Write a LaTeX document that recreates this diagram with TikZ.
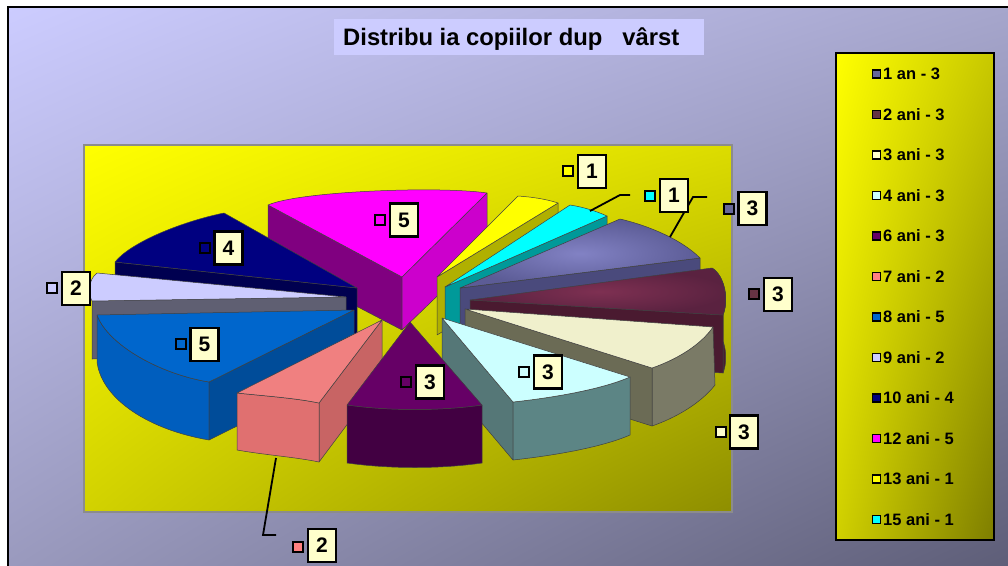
\documentclass[tikz,border=0pt]{standalone}
\usepackage{fontspec}
\setmainfont{Liberation Sans}
\usetikzlibrary{shadings}
\definecolor{bgA}{HTML}{CCCCFF}
\definecolor{bgB}{HTML}{A6A6CC}
\definecolor{bgC}{HTML}{9A9ABE}
\definecolor{bgD}{HTML}{5E5E78}
\definecolor{titlefill}{HTML}{CCCCFF}
\definecolor{plA}{HTML}{FFFF00}
\definecolor{plB}{HTML}{DCDC00}
\definecolor{plC}{HTML}{D2D200}
\definecolor{plD}{HTML}{8E8E00}
\definecolor{lgB}{HTML}{C8C800}
\definecolor{lgC}{HTML}{D0D000}
\definecolor{lgD}{HTML}{7E7E00}
\definecolor{boxfill}{HTML}{FFFFCC}
% slice colours
\definecolor{magT}{HTML}{FF00FF}
\definecolor{magL}{HTML}{800080}
\definecolor{magR}{HTML}{CC00CC}
\definecolor{navT}{HTML}{000080}
\definecolor{navD}{HTML}{000050}
\definecolor{lavT}{HTML}{CCCCFF}
\definecolor{lavD}{HTML}{5F5F72}
\definecolor{bluT}{HTML}{0066CC}
\definecolor{bluO}{HTML}{005EBE}
\definecolor{bluD}{HTML}{004C99}
\definecolor{yelT}{HTML}{FFFF00}
\definecolor{yelD}{HTML}{B0B000}
\definecolor{cyaT}{HTML}{00FFFF}
\definecolor{cyaD}{HTML}{009999}
\definecolor{slaI}{HTML}{8282C4}
\definecolor{slaT}{HTML}{5C5C96}
\definecolor{slaD}{HTML}{4A4A7C}
\definecolor{marI}{HTML}{7E3052}
\definecolor{marT}{HTML}{5A2240}
\definecolor{marD}{HTML}{4A1A30}
\definecolor{creT}{HTML}{F0F0CC}
\definecolor{creD}{HTML}{6B6B55}
\definecolor{creO}{HTML}{7A7A66}
\definecolor{lcyT}{HTML}{CCFFFF}
\definecolor{lcyD}{HTML}{557777}
\definecolor{lcyO}{HTML}{5C8585}
\definecolor{salT}{HTML}{F08080}
\definecolor{salF}{HTML}{E07070}
\definecolor{salD}{HTML}{C86464}
\definecolor{purT}{HTML}{660066}
\definecolor{purD}{HTML}{420042}
% key colours
\definecolor{kA}{HTML}{666699}
\definecolor{kB}{HTML}{663344}
\definecolor{kC}{HTML}{FFFFCC}
\definecolor{kD}{HTML}{CCFFFF}
\definecolor{kE}{HTML}{660066}
\definecolor{kF}{HTML}{FF8080}
\definecolor{kG}{HTML}{0066CC}
\definecolor{kH}{HTML}{CCCCFF}
\definecolor{kI}{HTML}{000080}
\definecolor{kJ}{HTML}{FF00FF}
\definecolor{kK}{HTML}{FFFF00}
\definecolor{kL}{HTML}{00FFFF}
\begin{document}
\begin{tikzpicture}[x=1pt,y=-1pt,
  sl/.style={draw=black!75, line width=0.5pt, line join=round},
  vbox/.style={draw=black, line width=2.2pt, fill=boxfill, minimum width=28pt, minimum height=33pt, inner sep=0pt, font=\fontsize{21}{21}\selectfont\bfseries},
  vkey/.style={draw=black, line width=2pt, minimum size=10pt, inner sep=0pt},
  lkey/.style={draw=black, line width=1.6pt, minimum size=8pt, inner sep=0pt},
  ltext/.style={anchor=west, inner sep=0pt, font=\fontsize{16.5}{16.5}\selectfont\bfseries},
  leader/.style={draw=black, line width=1.8pt}]
\useasboundingbox (0,0) rectangle (1008,565);
\clip (0,0) rectangle (1008,565);
\fill[white] (0,0) rectangle (1008,565);
\shade[upper left=bgA, upper right=bgB, lower left=bgC, lower right=bgD] (8,7) rectangle (1008,565);
\draw[line width=2.5pt] (8,575) -- (8,7) -- (1015,7);

% title
\node[fill=titlefill, minimum width=370pt, minimum height=36pt, inner sep=0pt] (titlebox) at (519,37) {};
\node[anchor=base west, inner sep=0pt, font=\fontsize{23.8}{23.8}\selectfont\bfseries] (title) at (343,45) {Distribu ia copiilor dup\hspace{20pt}vârst};

% plot area
\shade[upper left=plA, upper right=plB, lower left=plC, lower right=plD] (84,145) rectangle (732,512);
\draw[draw=black!45, line width=1.5pt] (84,145) rectangle (732,512);

% 12 ani (magenta)
\filldraw[sl, fill=magL] (268,205) -- (402,277) -- (402,330) -- (268,260) -- cycle;
\filldraw[sl, fill=magR] (487,193) -- (402,277) -- (402,330) -- (487,248) -- cycle;
\filldraw[sl, fill=magT] (268,205) .. controls (300,191) and (440,186) .. (487,193) -- (402,277) -- cycle;
% 10 ani (navy)
\filldraw[sl, fill=navD] (115,262) -- (357,288) -- (357,346) -- (115,320) -- cycle;
\filldraw[sl, fill=navT] (115,262) .. controls (130,243) and (180,222) .. (224,213) -- (357,288) -- cycle;
% 9 ani (lavender)
\filldraw[sl, fill=lavD] (92,301) -- (346,297) -- (346,355) -- (92,359) -- cycle;
\filldraw[sl, fill=lavT] (97,273) .. controls (88,280) and (88,294) .. (92,301) -- (346,297) -- cycle;
% 8 ani (blue)
\filldraw[sl, fill=bluO] (97,315) .. controls (108,345) and (160,374) .. (209,382) -- (209,440) .. controls (150,430) and (102,400) .. (97,362) -- cycle;
\filldraw[sl, fill=bluD] (354,310) -- (209,382) -- (209,440) -- (354,368) -- cycle;
\filldraw[sl, fill=bluT] (97,315) -- (354,310) -- (209,382) .. controls (160,374) and (108,345) .. (97,315) -- cycle;
% 13 ani (yellow)
\filldraw[sl, fill=yelD] (437,277) -- (558,203) -- (558,261) -- (437,335) -- cycle;
\filldraw[sl, fill=yelT] (437,277) -- (518,196) .. controls (532,197) and (546,199) .. (558,203) -- cycle;
% 15 ani (cyan)
\filldraw[sl, fill=cyaD] (445,287) -- (607,216) -- (607,274) -- (445,345) -- cycle;
\filldraw[sl, fill=cyaT] (445,287) -- (570,205) .. controls (583,207) and (596,211) .. (607,216) -- cycle;
% 1 an (slate)
\filldraw[sl, fill=slaD] (460,288) -- (700,258) -- (700,316) -- (460,346) -- cycle;
\shadedraw[sl, inner color=slaI, outer color=slaT] (460,288) -- (620,219) .. controls (650,226) and (682,240) .. (700,258) -- cycle;
% 2 ani (maroon)
\filldraw[sl, fill=marD] (712,268) .. controls (725,276) and (729,300) .. (723,315) -- (723,373) .. controls (729,358) and (725,334) .. (712,326) -- cycle;
\filldraw[sl, fill=marD] (470,300) -- (723,315) -- (723,373) -- (470,358) -- cycle;
\shadedraw[sl, inner color=marI, outer color=marT] (470,300) -- (712,268) .. controls (725,276) and (729,300) .. (723,315) -- cycle;
% 3 ani (cream)
\filldraw[sl, fill=creO] (652,368) .. controls (675,360) and (700,346) .. (713,327) -- (715,385) .. controls (700,404) and (675,418) .. (652,426) -- cycle;
\filldraw[sl, fill=creD] (465,309) -- (652,368) -- (652,426) -- (465,367) -- cycle;
\filldraw[sl, fill=creT] (465,309) -- (713,327) .. controls (700,346) and (675,360) .. (652,368) -- cycle;
% 4 ani (light cyan)
\filldraw[sl, fill=lcyD] (442,318) -- (513,402) -- (513,460) -- (442,376) -- cycle;
\filldraw[sl, fill=lcyO] (513,402) .. controls (550,398) and (600,390) .. (630,377) -- (630,435) .. controls (600,448) and (550,456) .. (513,460) -- cycle;
\filldraw[sl, fill=lcyT] (442,318) -- (513,402) .. controls (550,398) and (600,390) .. (630,377) -- cycle;
% 7 ani (salmon)
\filldraw[sl, fill=salD] (382,320) -- (319,403) -- (319,462) -- (382,378) -- cycle;
\filldraw[sl, fill=salF] (237,393) .. controls (265,396) and (295,398) .. (319,403) -- (319,462) .. controls (295,457) and (265,455) .. (237,450) -- cycle;
\filldraw[sl, fill=salT] (382,320) -- (237,393) .. controls (265,396) and (295,398) .. (319,403) -- cycle;
% 6 ani (purple)
\filldraw[sl, fill=purD] (347,405) .. controls (390,411) and (440,411) .. (482,405) -- (482,463) .. controls (440,469) and (390,469) .. (347,463) -- cycle;
\filldraw[sl, fill=purT] (410,322) -- (482,405) .. controls (440,411) and (390,411) .. (347,405) -- cycle;

% leader lines
\coordinate (l15s) at (590,211); \coordinate (l15m) at (620,195); \coordinate (l15e) at (630,195);
\coordinate (l1s) at (670,237); \coordinate (l1m) at (693,197); \coordinate (l1e) at (707,197);
\coordinate (l7s) at (276,458); \coordinate (l7m) at (263,535); \coordinate (l7e) at (276,535);
\draw[leader] (l15s) -- (l15m) -- (l15e);
\draw[leader] (l1s) -- (l1m) -- (l1e);
\draw[leader] (l7s) -- (l7m) -- (l7e);

% data labels
\node[vkey, fill=kK] (k13) at (568,171) {};   \node[vbox] (v13) at (592,171.5) {1};
\node[vkey, fill=kL] (k15) at (650,196) {};   \node[vbox] (v15) at (674,195.5) {1};
\node[vkey, fill=kA] (k1) at (729,208.5) {};  \node[vbox] (v1) at (752.5,208.5) {3};
\node[vkey, fill=kB] (k2) at (754,294) {};    \node[vbox] (v2) at (778,294.5) {3};
\node[vkey, fill=kC] (k3) at (720.5,431.5) {};\node[vbox] (v3) at (744,432) {3};
\node[vkey, fill=kD] (k4) at (524,371.5) {};  \node[vbox] (v4) at (548,372) {3};
\node[vkey, fill=kE] (k6) at (406,381.5) {};  \node[vbox] (v6) at (430,382) {3};
\node[vkey, fill=kF] (k7) at (298,546.5) {};  \node[vbox] (v7) at (322,545.5) {2};
\node[vkey, fill=kG] (k8) at (180.5,344) {};  \node[vbox] (v8) at (204.5,344.5) {5};
\node[vkey, fill=kH] (k9) at (52,287.5) {};   \node[vbox] (v9) at (76,288.5) {2};
\node[vkey, fill=kI] (k10) at (204.5,247.5) {};\node[vbox] (v10) at (228.5,248) {4};
\node[vkey, fill=kJ] (k12) at (380,220) {};   \node[vbox] (v12) at (404,220) {5};

% legend
\shade[upper left=plA, upper right=lgB, lower left=lgC, lower right=lgD] (836,53) rectangle (994,540);
\draw[line width=2.2pt] (836,53) rectangle (994,540);
\foreach \lab/\col [count=\i from 0] in {1 an - 3/kA, 2 ani - 3/kB, 3 ani - 3/kC, 4 ani - 3/kD, 6 ani - 3/kE, 7 ani - 2/kF, 8 ani - 5/kG, 9 ani - 2/kH, 10 ani - 4/kI, 12 ani - 5/kJ, 13 ani - 1/kK, 15 ani - 1/kL}{
  \node[lkey, fill=\col] (lk\i) at (876.5,{74+40.5*\i}) {};
  \node[ltext] (lt\i) at (883,{74+40.5*\i}) {\lab};
}
\end{tikzpicture}
\end{document}
